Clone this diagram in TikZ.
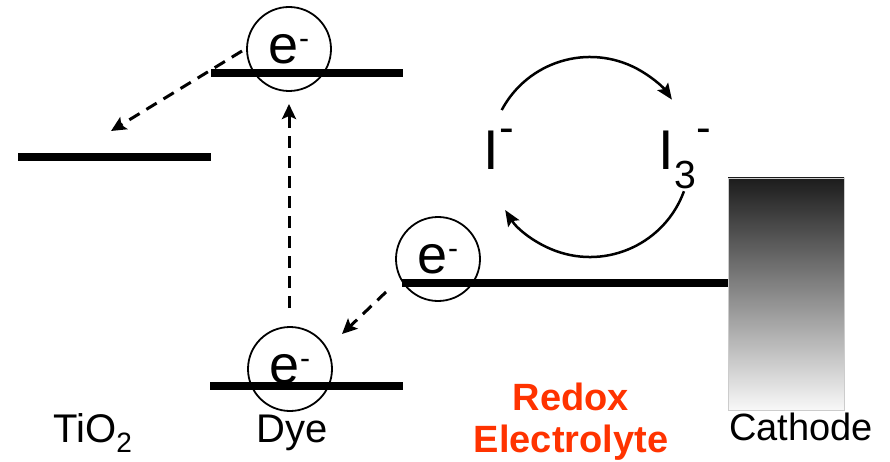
\documentclass[tikz,border=0pt]{standalone}
\usepackage{fontspec}
\setmainfont{Liberation Sans}
\usetikzlibrary{arrows.meta}
\definecolor{redoxred}{HTML}{FF3300}
\definecolor{cathdark}{HTML}{1C1C1C}
\definecolor{cathlight}{HTML}{F8F8F8}
\pgfdeclareverticalshading{cathshade}{100bp}{color(0bp)=(cathlight); color(25bp)=(cathlight); color(75bp)=(cathdark); color(100bp)=(cathdark)}
\newcommand{\myminus}[2]{\raisebox{#1}{\fontsize{#2}{#2}\selectfont -}}
\begin{document}
\begin{tikzpicture}[x=1pt,y=1pt,
  level/.style={line width=8pt},
  elec/.style={circle,draw,line width=1.8pt,minimum size=84pt,inner sep=0pt,
    font=\fontsize{54}{54}\selectfont},
  dasharrow/.style={line width=3pt,dash pattern=on 12pt off 8pt,
    -{Stealth[length=15pt,width=14pt,inset=3pt]}},
  cyc/.style={line width=2.5pt,-{Stealth[length=16pt,width=13pt,inset=3pt]}},
  lbl/.style={anchor=base,inner sep=0pt,font=\fontsize{40}{40}\selectfont},
  ion/.style={anchor=base,inner sep=0pt,font=\fontsize{56}{56}\selectfont}]
\useasboundingbox (0,0) rectangle (890,-462);
% energy levels
\coordinate (tA) at (18,-157); \coordinate (tB) at (211,-157);
\coordinate (dA) at (211,-73); \coordinate (dB) at (403,-73);
\coordinate (gA) at (210,-386); \coordinate (gB) at (403,-386);
\draw[level] (tA) -- (tB);
\draw[level] (dA) -- (dB);
\draw[level] (gA) -- (gB);
% cathode
\node[rectangle,draw=gray!40,line width=0.6pt,shading=cathshade,
  minimum width=116pt,minimum height=232pt,inner sep=0pt] (cath) at (786,-294) {};
\coordinate (rA) at (402,-283);
\draw[level] (rA) -- (rA -| cath.west);
% electrons
\node[elec] (e1) at (289,-49) {e\myminus{15pt}{30}};
\node[elec] (e3) at (290,-369) {e\myminus{15pt}{30}};
\node[elec] (e2) at (438,-259) {e\myminus{15pt}{30}};
% dashed transfers
\coordinate (s1) at (242,-51); \coordinate (t1) at (111,-131);
\draw[dasharrow] (s1) -- (t1);
\coordinate (s2) at (289,-308); \coordinate (t2) at (289,-104);
\draw[dasharrow] (s2) -- (t2);
\coordinate (s3) at (386,-292); \coordinate (t3) at (342,-334);
\draw[dasharrow] (s3) -- (t3);
% redox couple
\node[ion] (Im) at (499,-170) {I\myminus{27pt}{44}};
\node[ion] (I3) at (685,-170) {I\textsubscript{3}\myminus{27pt}{44}};
\coordinate (cc) at (590,-157);
\draw[cyc] (cc) ++(152:100) arc[start angle=152,end angle=35,radius=100];
\draw[cyc] (cc) ++(-20:100) arc[start angle=-20,end angle=-148,radius=100];
% labels
\node[lbl] (tio2) at (93,-442) {TiO\textsubscript{2}};
\node[lbl] (dye) at (292,-442) {Dye};
\node[lbl,font=\fontsize{38}{38}\selectfont\bfseries,text=redoxred] (redox) at (571,-410) {Redox};
\node[lbl,font=\fontsize{38}{38}\selectfont\bfseries,text=redoxred] (elyte) at (571,-452) {Electrolyte};
\node[lbl,font=\fontsize{38}{38}\selectfont] (cathl) at (801,-440) {Cathode};
\end{tikzpicture}
\end{document}
